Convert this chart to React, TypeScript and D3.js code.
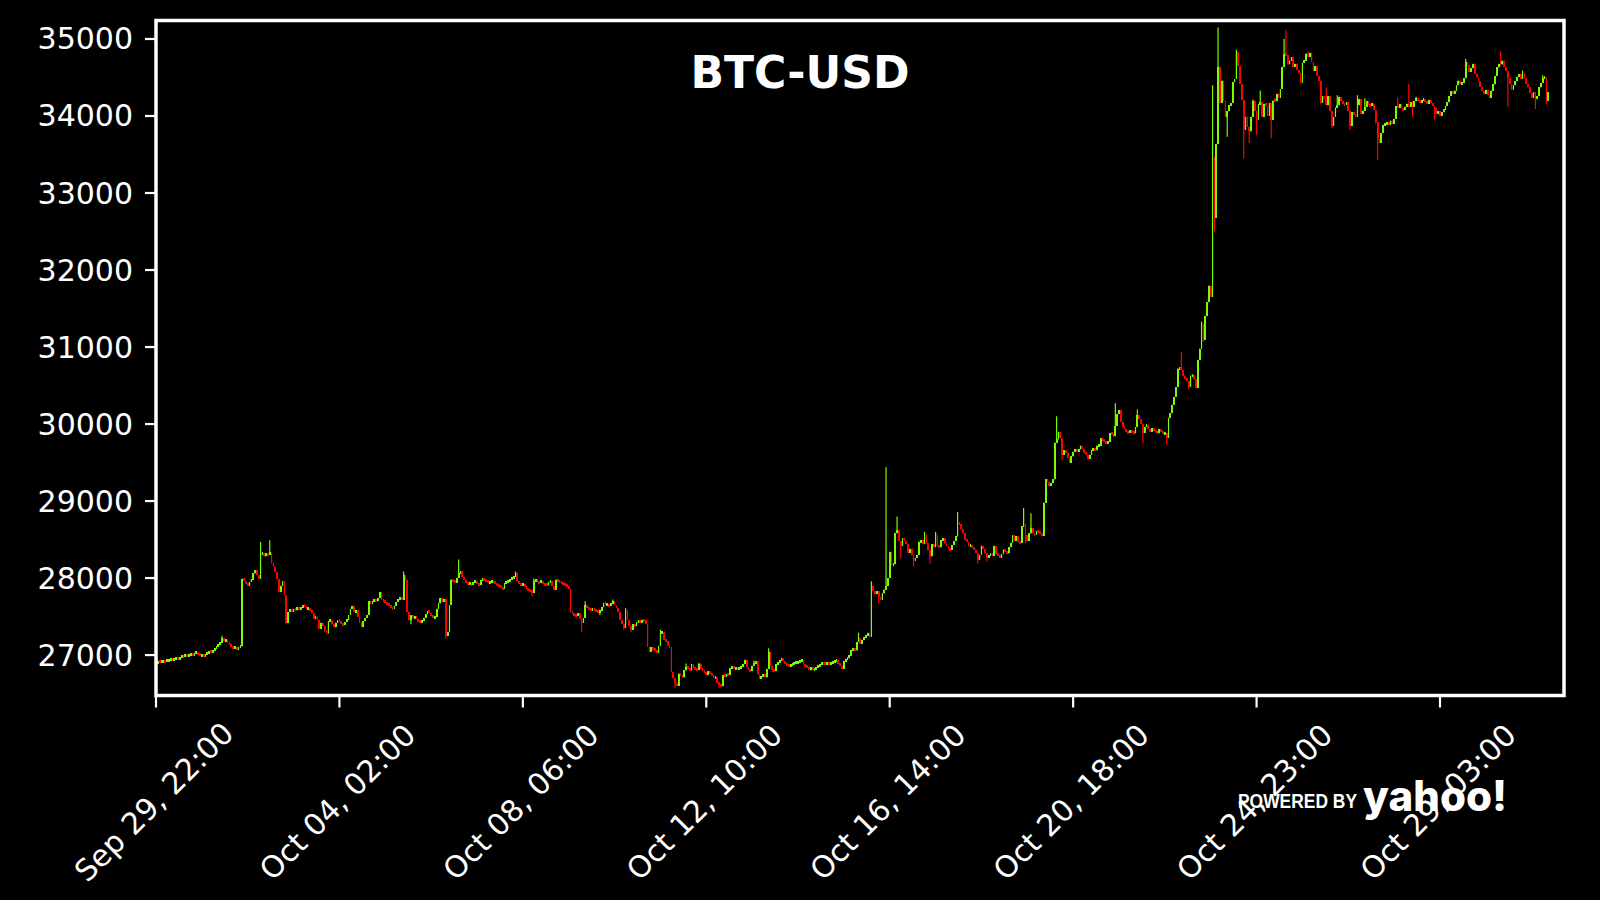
import * as d3 from 'd3';

// BTC-USD hourly candles
const TITLE = 'BTC-USD';
const FIRST_OPEN = 26900;

const closes = [
  26905, 26915, 26910, 26920, 26925, 26918, 26930, 26935, 26942, 26938,
  26950, 26955, 26948, 26962, 26990, 26975, 27010, 26985, 27000, 27020,
  27005, 27015, 27040, 27010, 26995, 27000, 26985, 27010, 27030, 27045,
  27040, 27060, 27080, 27110, 27140, 27160, 27220, 27180, 27190, 27160,
  27150, 27110, 27090, 27095, 27080, 27100, 27115, 27990, 27960, 27930,
  27900, 27950, 27980, 28060, 28100, 28040, 27990, 28300, 28330, 28280,
  28320, 28300, 28330, 28190, 28150, 28080, 27990, 27820, 27900, 27960,
  27780, 27420, 27560, 27590, 27560, 27600, 27580, 27620, 27600, 27620,
  27650, 27640, 27600, 27610, 27580, 27540, 27470, 27500, 27450, 27340,
  27420, 27380, 27320, 27300, 27440, 27460, 27400, 27360, 27420, 27450,
  27440, 27410, 27390, 27430, 27460, 27520, 27600, 27640, 27560, 27580,
  27500, 27420, 27370, 27440, 27480, 27520, 27700, 27660, 27700, 27720,
  27700, 27740, 27820, 27720, 27710, 27680, 27660, 27650, 27620, 27600,
  27640, 27690, 27720, 27740, 27720, 28040, 27980, 27560, 27450, 27520,
  27480, 27500, 27470, 27440, 27430, 27450, 27480, 27530, 27570, 27550,
  27510, 27480, 27490, 27600, 27670, 27740, 27690, 27730, 27250, 27300,
  27650, 27980, 27960, 27940, 28000, 28060, 28090, 28020, 27980, 27940,
  27920, 27930, 27915, 27945, 27955, 27925, 27910, 27970, 28000, 27975,
  27960, 27940, 27955, 27965, 27950, 27930, 27915, 27900, 27880, 27860,
  27930, 27950, 27960, 27980, 28000, 28020, 28060, 27960, 27920, 27905,
  27915, 27880, 27870, 27840, 27830, 27810, 27960, 27975, 27950, 27940,
  27960, 27925, 27915, 27905, 27950, 27965, 27900, 27850, 27980, 27960,
  27950, 27935, 27925, 27915, 27890, 27860, 27560, 27540, 27520, 27510,
  27540, 27470, 27420, 27480, 27650, 27620, 27600, 27580, 27600, 27590,
  27570, 27560, 27570, 27620, 27680, 27650, 27660, 27640, 27670, 27700,
  27650, 27610, 27560, 27460, 27400, 27350, 27580, 27450, 27380, 27330,
  27400, 27380, 27430, 27450, 27420, 27460, 27450, 27400, 27110, 27040,
  27100, 27080, 27060, 27030, 27120, 27280, 27300, 27200, 27180, 27120,
  27100, 26780, 26700, 26640, 26600, 26760, 26740, 26710, 26800, 26850,
  26830, 26800, 26880, 26830, 26820, 26810, 26890, 26820, 26800, 26770,
  26740, 26790, 26760, 26740, 26700, 26720, 26640, 26620, 26600, 26740,
  26730, 26750, 26740, 26830, 26850, 26820, 26830, 26810, 26830, 26860,
  26880, 26930, 26840, 26810, 26790, 26860, 26900, 26920, 26750, 26700,
  26720, 26750, 26710, 26820, 27040, 26860, 26800, 26790, 26880, 26900,
  26930, 26960, 26920, 26890, 26870, 26860, 26870, 26880, 26895, 26905,
  26910, 26920, 26930, 26880, 26860, 26840, 26820, 26830, 26810, 26820,
  26840, 26860, 26880, 26900, 26890, 26880, 26895, 26885, 26900, 26910,
  26920, 26930, 26890, 26860, 26820, 26920, 26940, 26960, 26990, 27060,
  27080, 27060, 27170, 27220, 27150, 27200, 27230, 27250, 27290, 27240,
  27900, 27830, 27800, 27830, 27760, 27720, 27800, 27850, 27900, 28000,
  28340, 28170, 28180, 28580, 28620, 28480, 28420, 28520, 28480, 28440,
  28330, 28380, 28300, 28230, 28260, 28300, 28470, 28490, 28440, 28560,
  28450, 28360, 28280, 28440, 28400, 28560, 28420, 28400, 28490, 28520,
  28450, 28420, 28380, 28370, 28430, 28480, 28540, 28720, 28700, 28640,
  28580, 28500, 28470, 28410, 28430, 28400, 28370, 28330, 28240, 28300,
  28420, 28380, 28320, 28260, 28300, 28320, 28290, 28420, 28310, 28300,
  28260, 28310, 28370, 28350, 28320, 28400, 28460, 28560, 28480, 28540,
  28470, 28460, 28670, 28700, 28560, 28480, 28580, 28650, 28580, 28560,
  28610, 28600, 28580, 28550, 28980, 29280, 29250, 29200, 29230, 29280,
  29760, 29800, 29900, 29820, 29600, 29660, 29630, 29560, 29500, 29580,
  29640, 29660, 29640, 29670, 29710, 29680, 29630, 29600, 29550, 29600,
  29660, 29690, 29660, 29720, 29720, 29820, 29790, 29770, 29760, 29770,
  29880, 29870, 29840, 29980, 30130, 30180, 30030, 29960, 29940, 29900,
  29890, 29920, 29890, 29880, 29960, 30120, 30060, 30000, 29890, 29960,
  29990, 29930, 29900, 29950, 29920, 29890, 29880, 29930, 29900, 29870,
  29880, 29820, 30080, 30140, 30250, 30350, 30480, 30720, 30730, 30700,
  30620, 30600, 30560, 30480, 30630, 30640, 30580, 30470, 30830, 30980,
  31300, 31090, 31400, 31580, 31790, 31650, 33470, 32680, 33640, 34640,
  34170, 34460, 34200, 33990, 34060, 34140, 34170, 34440, 34480, 34830,
  34650, 34420, 34210, 33820, 33990, 33860, 33800, 33990, 34200, 34070,
  33950, 34150, 34180, 33990, 34160, 34130, 34000, 34170, 33950, 34200,
  34190, 34290, 34240, 34350, 34640, 34800, 34790, 34670, 34720, 34760,
  34640, 34680, 34600, 34560, 34430, 34690, 34720, 34810, 34770, 34820,
  34700, 34590, 34650, 34520, 34460, 34170, 34260, 34220, 34140, 34260,
  34060, 33870, 33990, 34110, 34140, 34250, 34200, 34160, 34150, 34180,
  34070, 33870, 34050, 34020, 33990, 34140, 34220, 34030, 34070, 34120,
  34190, 34140, 34130, 34160, 34080, 33920, 33700, 33650, 33780, 33880,
  33890, 33920, 33880, 33940, 33900, 33960, 34130, 34110, 34150, 34100,
  34080, 34120, 34160, 34120, 34180, 34120, 34190, 34230, 34200, 34170,
  34200, 34220, 34180, 34160, 34210, 34170, 34130, 34100, 34030, 34060,
  34000, 34050, 34080, 34130, 34180, 34260, 34320, 34290, 34330, 34400,
  34460, 34410, 34430, 34490, 34700, 34660, 34570, 34620, 34680, 34550,
  34500, 34450, 34380, 34320, 34290, 34340, 34270, 34240, 34330, 34410,
  34520, 34630, 34680, 34670, 34720, 34640, 34580, 34490, 34420, 34340,
  34400, 34450, 34510, 34540, 34480, 34560, 34490, 34420, 34370, 34300,
  34240, 34310, 34230, 34260, 34370, 34430, 34490, 34510, 34200, 34310,
];

// [candle index, price] for the wicks that stick out of the bodies
const wickHighs: [number, number][] = [
  [36, 27250], [57, 28470], [62, 28490], [135, 28085], [165, 28240], [196, 28085],
  [206, 27995], [234, 27700], [249, 27720], [256, 27610], [275, 27330], [289, 26890],
  [296, 26900], [321, 26940], [326, 26930], [334, 27090], [341, 26960], [383, 27290],
  [390, 27960], [398, 29440], [404, 28800], [419, 28600], [425, 28600], [437, 28860],
  [473, 28910], [477, 28840], [491, 30100], [504, 29720], [523, 30270], [535, 30190],
  [559, 30940], [570, 31330], [574, 31800], [576, 34400], [579, 35150], [589, 34860],
  [598, 34210], [602, 34330], [610, 34240], [615, 35000], [616, 35120], [628, 34840],
  [638, 34370], [644, 34270], [655, 34270], [659, 34230], [677, 34240], [683, 34420],
  [687, 34250], [714, 34740], [733, 34840], [745, 34590], [756, 34530],
];
const wickLows: [number, number][] = [
  [71, 27400], [92, 27300], [94, 27280], [139, 27400], [158, 27220], [205, 27760],
  [217, 27840], [232, 27300], [242, 27520], [255, 27330], [259, 27300], [283, 26570],
  [307, 26570], [329, 26690], [336, 26780], [357, 26800], [394, 27670], [406, 28260],
  [413, 28150], [422, 28190], [448, 28190], [453, 28215], [474, 28450], [483, 28540],
  [487, 29190], [494, 29530], [498, 29500], [508, 29540], [538, 29750], [551, 29730],
  [563, 30450], [567, 30470], [571, 31070], [577, 32500], [584, 33730], [593, 33450],
  [596, 33650], [600, 33750], [608, 33710], [635, 34160], [641, 33840], [651, 33820],
  [665, 33900], [666, 33430], [685, 33990], [697, 33950], [737, 34120], [752, 34090],
  [758, 34150],
];

const yTicks = [27000, 28000, 29000, 30000, 31000, 32000, 33000, 34000, 35000];
const xTickIndex = [0, 100, 200, 300, 400, 500, 600, 700];
const xTickLabels = [
  'Sep 29, 22:00', 'Oct 04, 02:00', 'Oct 08, 06:00', 'Oct 12, 10:00',
  'Oct 16, 14:00', 'Oct 20, 18:00', 'Oct 24, 23:00', 'Oct 29, 03:00',
];

const WIDTH = 1600;
const HEIGHT = 900;
const PLOT = { left: 156, right: 1564, top: 20.5, bottom: 695.5 };
const X_LIMITS = [0, 767.6];
const Y_LIMITS = [26475, 35240];
const UP = '#7CFC00';
const DOWN = '#FF0000';
const FONT = "'DejaVu Sans', sans-serif";

export default function App() {
  const xScale = d3.scaleLinear().domain(X_LIMITS).range([PLOT.left, PLOT.right]);
  const yScale = d3.scaleLinear().domain(Y_LIMITS).range([PLOT.bottom, PLOT.top]);

  const highMap = new Map(wickHighs);
  const lowMap = new Map(wickLows);

  // open = previous close (continuous market)
  const candles = closes.map((c, i) => {
    const o = i === 0 ? FIRST_OPEN : closes[i - 1];
    const h = Math.max(o, c, highMap.get(i) ?? -Infinity);
    const l = Math.min(o, c, lowMap.get(i) ?? Infinity);
    return { i, o, h, l, c };
  });

  const step = xScale(1) - xScale(0);
  const bodyW = step * 0.95;

  const shapes = candles.map((d) => {
    const x = xScale(d.i);
    const col = d.c >= d.o ? UP : DOWN;
    const yTop = yScale(Math.max(d.o, d.c));
    const yBot = yScale(Math.min(d.o, d.c));
    const h = Math.max(3, yBot - yTop);
    return (
      <g key={d.i}>
        <line x1={x} x2={x} y1={yScale(d.h)} y2={yScale(d.l)} stroke={col} strokeWidth={1.2} />
        <rect
          x={x - bodyW / 2}
          y={(yTop + yBot) / 2 - h / 2}
          width={bodyW}
          height={h}
          fill={col}
          shapeRendering="crispEdges"
        />
      </g>
    );
  });

  const yAxis = yTicks.map((v) => (
    <g key={v}>
      <line x1={PLOT.left - 11} x2={PLOT.left} y1={yScale(v)} y2={yScale(v)} stroke="#fff" strokeWidth={2.2} />
      <text
        x={PLOT.left - 23}
        y={yScale(v)}
        textAnchor="end"
        dominantBaseline="central"
        fill="#fff"
        fontSize={30}
        fontFamily={FONT}
      >
        {v}
      </text>
    </g>
  ));

  const xAxis = xTickIndex.map((t, k) => (
    <g key={t}>
      <line x1={xScale(t)} x2={xScale(t)} y1={PLOT.bottom} y2={PLOT.bottom + 12} stroke="#fff" strokeWidth={2.2} />
      <text
        transform={`translate(${xScale(t) - 2},${802}) rotate(-45)`}
        textAnchor="middle"
        dominantBaseline="central"
        fill="#fff"
        fontSize={30}
        fontFamily={FONT}
      >
        {xTickLabels[k]}
      </text>
    </g>
  ));

  return (
    <svg
      width={WIDTH}
      height={HEIGHT}
      style={{ position: 'absolute', left: 0, top: 0, display: 'block' }}
    >
      <rect x={0} y={0} width={WIDTH} height={HEIGHT} fill="#000" />
      {shapes}
      <rect
        x={PLOT.left}
        y={PLOT.top}
        width={PLOT.right - PLOT.left}
        height={PLOT.bottom - PLOT.top}
        fill="none"
        stroke="#fff"
        strokeWidth={3.5}
      />
      {yAxis}
      {xAxis}
      <text x={800} y={88} textAnchor="middle" fill="#fff" fontSize={44} fontWeight="bold" fontFamily={FONT}>
        {TITLE}
      </text>
      {/* yahoo badge */}
      <text
        x={1238}
        y={808}
        fill="#fff"
        fontSize={21}
        fontWeight="bold"
        fontFamily="'Liberation Sans Narrow', 'Liberation Sans', sans-serif"
        textLength={119}
        lengthAdjust="spacingAndGlyphs"
      >
        POWERED BY
      </text>
      <text
        x={1363}
        y={811}
        fill="#fff"
        fontSize={42}
        fontWeight={800}
        fontFamily="Inter, 'DejaVu Sans', sans-serif"
        textLength={144}
        lengthAdjust="spacingAndGlyphs"
      >
        yahoo!
      </text>
    </svg>
  );
}
